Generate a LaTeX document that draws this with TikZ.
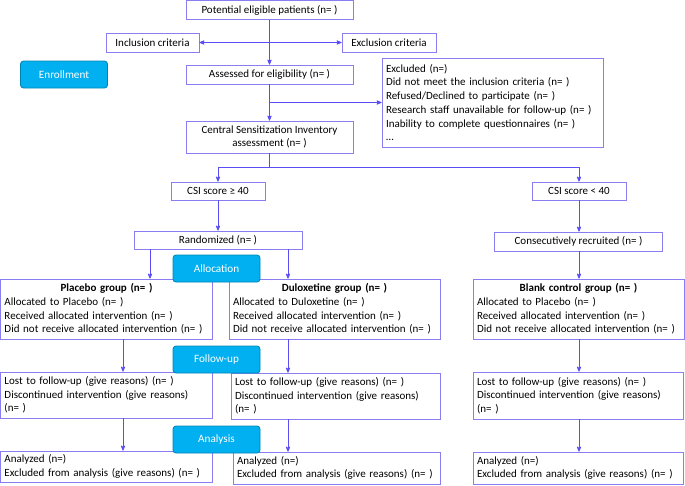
\documentclass[tikz,border=0pt]{standalone}
\usepackage{fontspec}
\setmainfont{Carlito}
\usetikzlibrary{arrows,calc}
\definecolor{boxline}{HTML}{8A7DF2}
\definecolor{flowline}{HTML}{5A4DF4}
\definecolor{stage}{HTML}{00B0F0}

\begin{document}
\begin{tikzpicture}[x=1pt,y=-1pt,->,>=stealth',line width=0.8pt,flowline,
  main box/.style={draw=boxline,fill=white,text=black,inner sep=0pt,font=\fontsize{11}{13.7}\selectfont},
  stage box/.style={draw=stage!75!black,fill=stage,text=white,rounded corners=3pt,
    minimum width=87,minimum height=27,font=\fontsize{11.2}{13}\selectfont}]
\useasboundingbox (0,0) rectangle (685,485);

% enrollment
\node[main box,minimum width=167,minimum height=19](pot) at (269.5,10) {Potential eligible patients (n= )};
\node[main box,minimum width=93,minimum height=19](incl) at (152.5,42.5) {Inclusion criteria};
\node[main box,minimum width=94,minimum height=19](excl) at (389,42.5) {Exclusion criteria};
\node[main box,minimum width=167,minimum height=19](assess) at (269.5,74.5) {Assessed for eligibility (n= )};
\node[main box,minimum width=221,minimum height=89,text width=213,align=left](excluded) at (492.5,102.5)
  {Excluded (n=)\\Did not meet the inclusion criteria (n= )\\Refused/Declined to participate (n= )\\
   Research staff unavailable for follow-up (n= )\\Inability to complete questionnaires (n= )\\\dots};
\node[main box,minimum width=167,minimum height=32,align=center](csiinv) at (269.5,137)
  {Central Sensitization Inventory\\assessment (n= )};
\node[main box,minimum width=94,minimum height=18](csihi) at (218,191) {CSI score ≥ 40};
\node[main box,minimum width=94,minimum height=18](csilo) at (579,191) {CSI score < 40};
\node[main box,minimum width=168,minimum height=18](rand) at (218,240) {Randomized (n= )};
\node[main box,minimum width=168,minimum height=19](consec) at (578.5,241.5) {Consecutively recruited (n= )};

% allocation
\node[main box,minimum width=212,minimum height=60,text width=204,align=left](placebo) at (106.5,309)
  {\makebox[204pt]{\textbf{Placebo group (n= )}}\\Allocated to Placebo (n= )\\Received allocated intervention (n= )\\Did not receive allocated intervention (n= )};
\node[main box,minimum width=211,minimum height=60,text width=203,align=left](dulox) at (334.5,309)
  {\makebox[203pt]{\textbf{Duloxetine group (n= )}}\\Allocated to Duloxetine (n= )\\Received allocated intervention (n= )\\Did not receive allocated intervention (n= )};
\node[main box,minimum width=211,minimum height=60,text width=203,align=left](blank) at (578.5,309)
  {\makebox[203pt]{\textbf{Blank control group (n= )}}\\Allocated to Placebo (n= )\\Received allocated intervention (n= )\\Did not receive allocated intervention (n= )};

% follow-up
\node[main box,minimum width=212,minimum height=46,text width=204,align=left](lostL) at (106.5,395)
  {Lost to follow-up (give reasons) (n= )\\Discontinued intervention (give reasons)\\(n= )};
\node[main box,minimum width=209,minimum height=46,text width=201,align=left](lostM) at (335.5,396)
  {Lost to follow-up (give reasons) (n= )\\Discontinued intervention (give reasons)\\(n= )};
\node[main box,minimum width=210,minimum height=47,text width=202,align=left](lostR) at (578,395.5)
  {Lost to follow-up (give reasons) (n= )\\Discontinued intervention (give reasons)\\(n= )};

% analysis
\node[main box,minimum width=212,minimum height=31,text width=204,align=left](anL) at (106.5,466.5)
  {Analyzed (n=)\\Excluded from analysis (give reasons) (n= )};
\node[main box,minimum width=207,minimum height=32,text width=199,align=left](anM) at (336.5,468)
  {Analyzed (n=)\\Excluded from analysis (give reasons) (n= )};
\node[main box,minimum width=210,minimum height=32,text width=202,align=left](anR) at (578,468)
  {Analyzed (n=)\\Excluded from analysis (give reasons) (n= )};

% stage labels
\node[stage box](enroll) at (64,74.5) {Enrollment};
\node[stage box](alloc) at (216.5,268.5) {Allocation};
\node[stage box](follow) at (216.5,359.5) {Follow-up};
\node[stage box](analysis) at (216.5,439.5) {Analysis};

\coordinate (exbr) at ($(assess.south)!0.5!(csiinv.north)$);
\coordinate (split) at ($(csiinv.south)+(0,14)$);
\coordinate (rL) at (150,0);
\coordinate (rM) at (288,0);
\coordinate (cL) at (123,0);
\coordinate (cR) at (579,0);

\path
(pot) edge (assess)
(incl) edge[<->] (excl)
(assess) edge (csiinv)
(exbr) edge (exbr -| excluded.west)
(rand.south -| rL) edge (placebo.north -| rL)
(rand.south -| rM) edge (dulox.north -| rM)
(consec.south -| cR) edge (blank.north -| cR)
(placebo.south -| cL) edge (lostL.north -| cL)
(dulox.south -| rM) edge (lostM.north -| rM)
(blank.south -| cR) edge (lostR.north -| cR)
(lostL.south -| cL) edge (anL.north -| cL)
(lostM.south -| rM) edge (anM.north -| rM)
(lostR.south -| cR) edge (anR.north -| cR);

\draw (csiinv) -- (split) -| (csihi);
\draw (split) -| (csilo.north -| cR);
\draw (csihi) -- (rand);
\draw (csilo.south -| cR) -- (consec.north -| cR);

\end{tikzpicture}
\end{document}
